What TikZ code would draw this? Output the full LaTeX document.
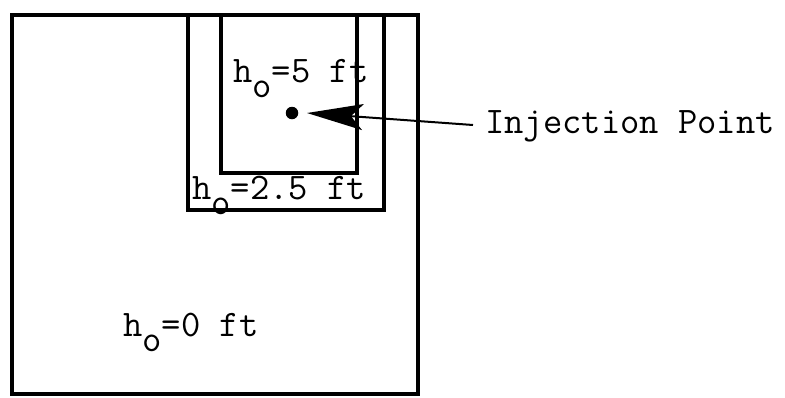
\documentclass[tikz,border=0pt]{standalone}
\usepackage{fontspec}
\usetikzlibrary{arrows.meta}
\newcommand{\hsub}{h\raisebox{-15pt}{o}}
\tikzset{
  wall/.style={line width=3.2pt, line cap=rect},
  lbl/.style={font=\ttfamily\fontsize{37.5}{40}\selectfont, inner sep=0pt, anchor=base west},
}
\begin{document}
\begin{tikzpicture}[x=1pt,y=-1pt]
\useasboundingbox (0,0) rectangle (785,397);
% outer region h=0
\draw[wall] (12,15) rectangle (418,394);
% middle region h=2.5
\draw[wall] (188,15) -- (188,210) -- (384,210) -- (384,15);
% inner region h=5
\draw[wall] (221,15) -- (221,173) -- (357,173) -- (357,15);
% labels
\node[lbl] (h5) at (233,82) {\hsub=5 ft};
\node[lbl] (h25) at (192,199) {\hsub=2.5 ft};
\node[lbl] (h0) at (123,336) {\hsub=0 ft};
% injection point
\node[circle, fill=black, inner sep=0pt, minimum size=12.5pt] (dot) at (292,113) {};
\coordinate (tip) at (307,113);
\node[lbl, anchor=west] (inj) at (485,126) {Injection Point};
\draw[line width=2pt, -{Stealth[length=56pt,width=26pt,inset=12pt]}] (inj.west) ++(-12,-1) coordinate (tail) (tail) -- (tip);
\end{tikzpicture}
\end{document}
